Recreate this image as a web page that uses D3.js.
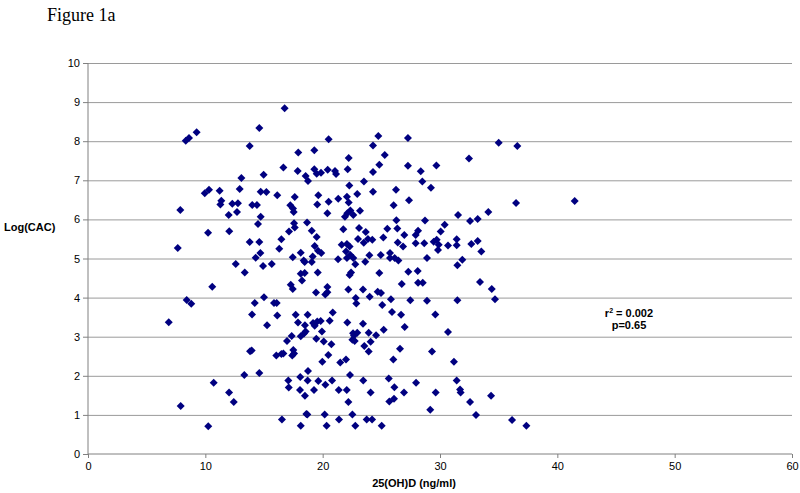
<html>
<head>
    <script src="https://d3js.org/d3.v7.min.js"></script>
    <style>
        body { margin: 0; background: #fff; }
        .grid line { stroke: #9a9a9a; stroke-width: 1; }
        .grid .domain { stroke: none; }
        .axis text { font-family: Arial, "Liberation Sans", sans-serif; font-size: 11px; fill: #000; }
        .axis line, .axis .domain { stroke: #808080; }
    </style>
</head>
<body>
<svg width="800" height="493"></svg>
<script>
    // vitamin D level (ng/ml)
    const vitD = [
        8.33, 8.61, 9.26, 14.60, 13.78, 13.07, 14.97, 9.95, 10.31, 11.22, 12.93, 14.72, 15.20, 11.36, 11.28, 12.30,
        12.78, 14.00, 14.40, 7.87, 11.99, 12.70, 14.72, 14.49, 10.23, 12.04, 13.78, 14.60, 7.65, 14.69, 14.29,
        12.59, 14.92, 13.36, 10.59, 8.41, 8.80, 15.00, 14.21, 13.98, 6.88, 15.26, 13.81, 13.95, 13.32, 14.60,
        10.71, 12.02, 12.42, 7.90, 10.25,
        16.76, 20.51, 24.74, 24.29, 27.27, 17.92, 19.29, 22.22, 25.29, 16.65, 17.87, 19.29, 19.49, 19.86, 20.43,
        21.05, 21.14, 22.13, 24.29, 24.83, 27.27, 28.36, 29.69, 18.55, 18.75, 16.13, 17.62, 19.63, 20.51, 21.33,
        22.07, 22.22, 22.95, 22.27, 23.52, 24.29, 26.25, 27.36, 28.49, 29.23, 17.24, 17.47, 17.53, 19.54, 20.40,
        21.90, 22.10, 22.36, 22.61, 23.18, 26.05, 26.28, 28.72, 30.40, 17.56, 17.62, 17.13, 18.67, 19.07, 19.49,
        16.48, 16.30, 18.13, 17.45, 19.32, 19.60, 19.88, 19.15, 21.76, 21.62, 22.07, 22.30, 21.99, 22.36, 21.31,
        23.10, 23.01, 23.67, 23.50, 23.86, 24.23, 23.98, 24.95, 25.17, 25.51, 25.74, 26.36, 26.40, 26.85, 26.96,
        27.93, 28.13, 27.93, 28.66, 28.89, 29.46, 29.72, 29.89, 30.06, 29.83, 30.68, 26.14,
        15.66, 18.38, 18.47, 19.07, 22.07, 22.61, 22.78, 23.63, 25.74, 26.45, 18.13, 18.47, 19.58, 22.30, 22.42,
        24.83, 27.30, 28.10, 26.74, 28.13, 28.53, 17.28, 17.45, 18.24, 19.43, 20.40, 20.40, 20.22, 22.19, 23.44,
        24.69, 24.97, 24.01, 22.82, 22.87, 25.82, 27.47, 28.89, 15.85, 16.08, 25.08, 16.13, 17.70, 18.72, 20.86,
        25.91, 26.68, 29.60, 17.90, 18.49, 18.55, 19.18, 19.32, 19.54, 19.83, 20.60, 22.10, 23.44, 26.99, 25.20,
        19.94, 18.13, 18.41, 17.36, 19.46, 20.09, 20.74, 22.59, 22.95, 22.67, 22.53, 22.73, 23.92, 24.55, 24.09,
        23.55, 23.92, 16.96, 17.50, 17.56, 17.41, 16.65, 16.05, 16.48, 20.48, 19.97, 21.50, 21.99, 26.59, 26.02,
        29.32, 30.68, 18.75, 18.09, 17.07, 17.11, 18.72, 19.63, 20.80, 22.33, 23.46, 25.63, 27.96, 20.23, 18.07,
        18.49, 19.26, 21.37, 22.05, 26.11, 24.09, 26.93, 29.63, 22.19, 25.68, 26.08, 29.17, 16.53, 18.61, 18.69,
        20.17, 21.39, 22.53, 23.75, 24.21, 18.13, 20.34, 22.78, 25.03,
        35.00, 36.59, 32.47, 36.48, 41.48, 34.12, 31.54, 32.56, 33.21, 31.42, 31.42, 32.67, 33.21, 33.52, 31.90,
        31.48, 33.41, 34.41, 34.69, 31.48, 31.19, 31.42, 31.71, 31.76, 32.56, 34.35, 33.07, 36.14, 37.36
    ];
    // log of coronary artery calcium score
    const logCAC = [
        8.01, 8.08, 8.23, 8.34, 7.88, 7.06, 7.14, 6.67, 6.76, 6.73, 6.78, 6.71, 6.70, 6.48, 6.38, 6.40,
        6.41, 6.37, 6.37, 6.24, 6.11, 6.19, 6.07, 5.88, 5.66, 5.70, 5.42, 5.42, 5.27, 5.14, 5.02,
        4.86, 4.81, 4.64, 4.28, 3.94, 3.84, 4.01, 3.86, 3.57, 3.37, 3.29, 2.63, 2.65, 2.02, 2.07,
        1.82, 1.57, 1.33, 1.23, 0.71,
        8.84, 8.05, 8.13, 7.89, 8.08, 7.71, 7.77, 7.57, 7.65, 7.33, 7.24, 7.28, 7.17, 7.19, 7.27,
        7.24, 7.16, 7.28, 7.21, 7.40, 7.37, 7.23, 7.38, 7.11, 6.98, 6.62, 6.57, 6.62, 6.45, 6.53,
        6.58, 6.43, 6.65, 6.87, 6.97, 6.71, 6.76, 6.49, 6.97, 6.81, 6.36, 6.28, 6.19, 6.38, 6.16,
        6.07, 6.16, 6.23, 6.11, 6.22, 6.36, 5.98, 5.97, 5.86, 5.90, 5.79, 5.69, 5.92, 5.71, 5.55,
        5.49, 5.25, 5.15, 5.03, 5.32, 5.20, 5.14, 5.05, 5.75, 5.35, 5.37, 5.31, 5.18, 5.09, 4.98,
        5.78, 5.50, 5.68, 5.40, 5.50, 5.48, 5.08, 5.09, 5.54, 5.76, 5.14, 5.77, 5.41, 5.31, 5.60,
        5.60, 5.71, 5.39, 5.39, 5.01, 5.43, 5.48, 5.35, 5.69, 5.22, 5.33, 5.01,
        4.86, 4.95, 4.91, 4.91, 5.01, 5.01, 4.85, 4.92, 5.01, 4.95, 4.61, 4.63, 4.64, 4.58, 4.64,
        4.63, 4.66, 4.68, 4.35, 4.38, 4.38, 4.33, 4.22, 4.44, 4.13, 4.27, 4.14, 4.08, 4.21, 4.21,
        4.15, 4.12, 4.02, 3.99, 3.85, 3.96, 3.93, 3.92, 3.86, 3.86, 3.81, 3.54, 3.56, 3.56, 3.62,
        3.63, 3.56, 3.57, 3.36, 3.29, 3.13, 3.35, 3.28, 3.39, 3.40, 3.41, 3.36, 3.33, 3.25, 3.18,
        3.13, 3.01, 3.08, 3.02, 2.95, 2.88, 2.81, 3.09, 3.10, 3.03, 2.92, 2.89, 3.10, 3.04, 2.87,
        2.76, 2.62, 2.89, 2.66, 2.57, 2.52, 2.57, 2.52, 2.56, 2.53, 2.36, 2.34, 2.42, 2.69, 2.42,
        2.62, 3.12, 2.12, 1.97, 1.88, 1.70, 1.88, 1.87, 1.88, 2.02, 1.88, 1.93, 1.82, 1.77, 1.64,
        1.49, 1.64, 1.64, 1.64, 1.71, 1.57, 1.57, 1.57, 1.33, 1.34, 1.41, 1.13, 0.88, 1.02, 1.01,
        1.01, 0.88, 1.01, 0.88, 0.88, 0.72, 0.72, 0.72, 0.72,
        7.96, 7.88, 7.56, 6.42, 6.47, 6.19, 6.11, 5.96, 6.01, 5.49, 5.34, 5.37, 5.45, 5.18, 4.97,
        4.83, 4.40, 4.22, 3.96, 3.93, 2.36, 1.88, 1.65, 1.57, 1.33, 1.49, 1.00, 0.87, 0.72
    ];
    const xTicks = [0, 10, 20, 30, 40, 50, 60];
    const yTicks = [0, 1, 2, 3, 4, 5, 6, 7, 8, 9, 10];

    const svg = d3.select("svg");
    const margins = { top: 63, right: 8, bottom: 39, left: 88 };
    const chartWidth = 800 - margins.left - margins.right;
    const chartHeight = 493 - margins.top - margins.bottom;

    const xScale = d3.scaleLinear().domain([0, 60]).range([0, chartWidth]);
    const yScale = d3.scaleLinear().domain([0, 10]).range([chartHeight, 0]);

    let chartArea = svg.append("g")
        .attr("transform", `translate(${margins.left},${margins.top})`);

    let leftGridLines = d3.axisLeft(yScale).tickValues(yTicks.slice(1)).tickFormat("").tickSize(-chartWidth);
    chartArea.append("g")
        .attr("class", "grid")
        .call(leftGridLines);

    let leftAxis = d3.axisLeft(yScale).tickValues(yTicks).tickSize(5).tickPadding(3);
    chartArea.append("g")
        .attr("class", "axis")
        .call(leftAxis)
        .call(g => g.select(".domain").attr("d", `M0,0V${chartHeight}`));

    let bottomAxis = d3.axisBottom(xScale).tickValues(xTicks).tickSize(4).tickPadding(4);
    chartArea.append("g")
        .attr("class", "axis")
        .attr("transform", `translate(0,${chartHeight})`)
        .call(bottomAxis)
        .call(g => g.select(".domain").attr("d", `M0,0H${chartWidth}`));

    const diamond = d3.symbol(d3.symbolSquare, 32);
    vitD.forEach((v, i) => {
        chartArea.append("path")
            .attr("d", diamond)
            .attr("transform", `translate(${xScale(v)},${yScale(logCAC[i])}) rotate(45)`)
            .attr("fill", "#000080");
    });

    // titles
    svg.append("text")
        .attr("x", 47).attr("y", 21)
        .attr("font-family", "'Liberation Serif', 'Times New Roman', serif")
        .attr("font-size", 18)
        .text("Figure 1a");

    svg.append("text")
        .attr("x", 4).attr("y", 231)
        .attr("font-family", "Arial, 'Liberation Sans', sans-serif")
        .attr("font-size", 11).attr("font-weight", "bold")
        .text("Log(CAC)");

    svg.append("text")
        .attr("x", 414).attr("y", 487)
        .attr("text-anchor", "middle")
        .attr("font-family", "Arial, 'Liberation Sans', sans-serif")
        .attr("font-size", 11).attr("font-weight", "bold")
        .text("25(OH)D (ng/ml)");

    let note = svg.append("text")
        .attr("text-anchor", "middle")
        .attr("font-family", "Arial, 'Liberation Sans', sans-serif")
        .attr("font-size", 11).attr("font-weight", "bold");
    let r2 = note.append("tspan").attr("x", 629).attr("y", 317);
    r2.append("tspan").text("r");
    r2.append("tspan").attr("font-size", 7).attr("dy", -4).text("2");
    r2.append("tspan").attr("dy", 4).text(" = 0.002");
    note.append("tspan").attr("x", 629).attr("y", 329).text("p=0.65");
</script>
</body>
</html>
